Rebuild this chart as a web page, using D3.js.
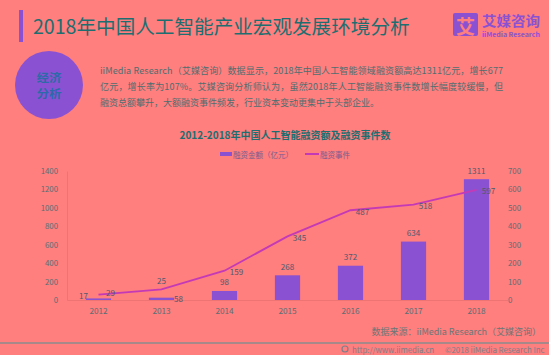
<!DOCTYPE html>
<html><head><meta charset="utf-8">
<script src="https://cdn.jsdelivr.net/npm/d3@7"></script>
<style>
html,body{margin:0;padding:0;background:#ff7e7e;}
svg{display:block;}
text{font-family:"Noto Sans CJK SC","Noto Sans",sans-serif;}
</style></head>
<body>
<svg id="c" width="549" height="355"></svg>
<script>
const years = ["2012","2013","2014","2015","2016","2017","2018"];
const amounts = [17, 25, 98, 268, 372, 634, 1311];
const events = [29, 58, 159, 345, 487, 518, 597];
const leftTicks = [0,200,400,600,800,1000,1200,1400];
const rightTicks = [0,100,200,300,400,500,600,700];
const pageTitle = "2018年中国人工智能产业宏观发展环境分析";
const chartTitle = "2012-2018年中国人工智能融资额及融资事件数";
const legendNames = ["融资金额（亿元）","融资事件"];
const badgeLines = ["经济","分析"];
const paragraph = [
  "iiMedia Research（艾媒咨询）数据显示，2018年中国人工智能领域融资额高达1311亿元，增长677",
  "亿元，增长率为107%。艾媒咨询分析师认为，虽然2018年人工智能融资事件数增长幅度较缓慢，但",
  "融资总额攀升，大额融资事件频发，行业资本变动更集中于头部企业。"
];
const sourceText = "数据来源：iiMedia Research（艾媒咨询）";
const footerUrl = "http://www.iimedia.cn";
const footerCopy = "©2018  iiMedia Research  Inc";

const BG = "#ff7e7e", PURPLE = "#8a52d2", TEAL = "#1d6e70", LINE = "#c43ab6";
const svg = d3.select("#c");

// header
svg.append("rect").attr("x",19).attr("y",10).attr("width",4).attr("height",32).attr("fill",PURPLE);
svg.append("text").attr("x",33).attr("y",25).attr("dominant-baseline","central")
  .attr("font-size",19.6).attr("fill",TEAL).text(pageTitle);

// logo
svg.append("rect").attr("x",453).attr("y",13).attr("width",25).attr("height",23).attr("rx",2).attr("fill",PURPLE);
svg.append("text").attr("x",465.5).attr("y",25).attr("text-anchor","middle").attr("dominant-baseline","central")
  .attr("font-size",19).attr("font-weight","bold").attr("fill",BG).text("艾");
svg.append("text").attr("x",482).attr("y",19.5).attr("dominant-baseline","central")
  .attr("font-size",13.5).attr("font-weight","bold").attr("fill",PURPLE)
  .attr("textLength",58).attr("lengthAdjust","spacingAndGlyphs").text("艾媒咨询");
svg.append("text").attr("x",482).attr("y",33.5).attr("dominant-baseline","central")
  .attr("font-size",6.5).attr("font-weight","bold").attr("fill",PURPLE)
  .attr("textLength",58).attr("lengthAdjust","spacingAndGlyphs").text("iiMedia Research");

// circle badge
svg.append("circle").attr("cx",49).attr("cy",85).attr("r",34).attr("fill",PURPLE);
badgeLines.forEach((s,i)=>{
  svg.append("text").attr("x",49).attr("y",77 + i*16).attr("text-anchor","middle")
    .attr("dominant-baseline","central")
    .attr("font-size",11).attr("font-weight","bold").attr("fill","#2c6aa8")
    .attr("textLength",25).attr("lengthAdjust","spacingAndGlyphs").text(s);
});

// paragraph
const pY = [70, 86.5, 102];
paragraph.forEach((line,i)=>{
  const t = svg.append("text").attr("x",100).attr("y",pY[i]).attr("dominant-baseline","central")
    .attr("font-size",9).attr("fill","#4f6e70").text(line);
  if(i<2) t.attr("textLength",403).attr("lengthAdjust","spacing");
});

// chart title
svg.append("text").attr("x",285).attr("y",134).attr("text-anchor","middle").attr("dominant-baseline","central")
  .attr("font-size",10).attr("font-weight","bold").attr("fill",TEAL).text(chartTitle);

// legend
svg.append("rect").attr("x",220).attr("y",152).attr("width",12).attr("height",4).attr("fill",PURPLE);
svg.append("text").attr("x",233).attr("y",154).attr("dominant-baseline","central")
  .attr("font-size",7.5).attr("fill","#7a5d8e").text(legendNames[0]);
svg.append("line").attr("x1",305).attr("x2",319).attr("y1",154).attr("y2",154).attr("stroke",LINE).attr("stroke-width",2);
svg.append("text").attr("x",320).attr("y",154).attr("dominant-baseline","central")
  .attr("font-size",7.5).attr("fill","#7a5d8e").text(legendNames[1]);

// scales
const x = d3.scaleBand().domain(years).range([67,508]);
const yL = d3.scaleLinear().domain([0,1400]).range([300,171]);
const yR = d3.scaleLinear().domain([0,700]).range([300,171]);
const bw = x.bandwidth()*0.4;
const cx = d => x(d)+x.bandwidth()/2;

// axes
const axL = svg.append("g").attr("transform","translate(67,0)")
  .call(d3.axisLeft(yL).tickValues(leftTicks).tickFormat(d3.format("d")).tickSize(0).tickPadding(9));
const axR = svg.append("g").attr("transform","translate(508,0)")
  .call(d3.axisRight(yR).tickValues(rightTicks).tickFormat(d3.format("d")).tickSize(0).tickPadding(0));
const axB = svg.append("g").attr("transform","translate(0,300)")
  .call(d3.axisBottom(x).tickSize(0).tickPadding(8));
[axL,axR,axB].forEach(g=>{
  g.select(".domain").attr("stroke","#ee7474").attr("stroke-width",1);
  g.selectAll("text").attr("font-size",7.8).attr("fill","#5a6e74")
    .style("font-family",'"Noto Sans CJK SC","Noto Sans",sans-serif');
});
axR.select(".domain").remove();
axB.selectAll("text").attr("font-size",8.2);

// bars
svg.append("g").selectAll("rect").data(years).join("rect")
  .attr("x",d=>cx(d)-bw/2).attr("width",bw)
  .attr("y",(d,i)=>yL(amounts[i])).attr("height",(d,i)=>yL(0)-yL(amounts[i]))
  .attr("fill",PURPLE);

// line
const line = d3.line().x((d,i)=>cx(years[i])).y(d=>yR(d));
svg.append("path").datum(events).attr("d",line).attr("fill","none")
  .attr("stroke",LINE).attr("stroke-width",1.8);

// label placement hints (offsets relative to mark)
const barLabelShift = {"2012":[-15,6],"2013":[0,-8]};
const lineLabelShift = {"2012":[12,-3],"2013":[17,8]};
svg.append("g").selectAll("text").data(years).join("text")
  .attr("x",d=>cx(d)+(barLabelShift[d]||[0,0])[0])
  .attr("y",(d,i)=>yL(amounts[i])-9+(barLabelShift[d]||[0,0])[1])
  .attr("text-anchor","middle").attr("dominant-baseline","central")
  .attr("font-size",8).attr("fill","#4d5a6e").text((d,i)=>amounts[i]);
svg.append("g").selectAll("text").data(years).join("text")
  .attr("x",d=>cx(d)+(lineLabelShift[d]||[12,0])[0])
  .attr("y",(d,i)=>yR(events[i])+1+(lineLabelShift[d]||[12,0])[1])
  .attr("text-anchor","middle").attr("dominant-baseline","central")
  .attr("font-size",8).attr("fill","#4d5a6e").text((d,i)=>events[i]);

// source
svg.append("text").attr("x",541).attr("y",331).attr("text-anchor","end").attr("dominant-baseline","central")
  .attr("font-size",9).attr("fill","#6c7676").text(sourceText);
svg.append("rect").attr("x",0).attr("y",342).attr("width",549).attr("height",2).attr("fill","#a88888");

// footer
svg.append("circle").attr("cx",345).attr("cy",349).attr("r",3).attr("fill","none").attr("stroke","#7d7f8a").attr("stroke-width",1.2);
svg.append("text").attr("x",352).attr("y",349).attr("dominant-baseline","central")
  .attr("font-size",7.8).attr("fill","#7d7f8a").text(footerUrl);
svg.append("text").attr("x",445).attr("y",349).attr("dominant-baseline","central")
  .attr("font-size",7.8).attr("fill","#7d7f8a").text(footerCopy);
</script>
</body></html>
